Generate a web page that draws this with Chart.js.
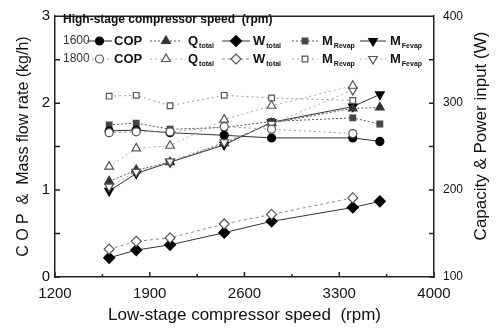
<!DOCTYPE html>
<html>
<head>
<meta charset="utf-8">
<script src="https://cdn.jsdelivr.net/npm/chart.js@4"></script>
<style>
  html, body { margin: 0; padding: 0; background: #fff; }
</style>
</head>
<body>
<canvas id="perfChart" width="496" height="333"></canvas>
<script>
// low-stage compressor speed (rpm) for each high-stage speed
const rpm1600 = [1600, 1800, 2050, 2450, 2800, 3400, 3600];
const rpm1800 = [1600, 1800, 2050, 2450, 2800, 3400];

// high-stage 1600 rpm
const cop1600 = [1.68, 1.69, 1.66, 1.63, 1.60, 1.60, 1.56];
const qTotal1600 = [210, 223, 232, 254, 277, 294, 295];
const wTotal1600 = [122, 131, 137, 151, 164, 180, 187];
const mRevap1600 = [1.75, 1.77, 1.70, 1.72, 1.79, 1.83, 1.76];
const mFevap1600 = [0.99, 1.19, 1.32, 1.52, 1.78, 1.96, 2.10];

// high-stage 1800 rpm
const cop1800 = [1.66, 1.67, 1.67, 1.73, 1.70, 1.65];
const qTotal1800 = [227, 248, 251, 281, 297, 320];
const wTotal1800 = [132, 141, 145, 161, 172, 191];
const mRevap1800 = [2.08, 2.09, 1.97, 2.09, 2.06, 2.03];
const mFevap1800 = [1.04, 1.21, 1.33, 1.55, 1.76, 2.15];

const speedLabels = ['1600', '1800'];
const seriesNames = [['COP', ''], ['Q', 'total'], ['W', 'total'], ['M', 'Revap'], ['M', 'Fevap']];

const FONT = "'Liberation Sans', Arial, sans-serif";

const pts = (xs, ys) => xs.map((x, i) => ({ x: x, y: ys[i] }));

const solid = [];
const dots = [2, 2];
const light = [2, 3];

const mk = (xs, ys, axis, style, filled, rot, radius, dash, lineColor, fill) => ({
    data: pts(xs, ys),
    yAxisID: axis,
    pointStyle: style,
    rotation: rot,
    pointRadius: radius,
    pointBorderWidth: 1.2,
    pointBackgroundColor: filled ? fill : '#fff',
    pointBorderColor: filled ? fill : '#555',
    borderColor: lineColor,
    borderWidth: 1,
    borderDash: dash,
    fill: false,
    tension: 0,
});

const datasets = [
    mk(rpm1800, cop1800, 'y', 'circle', false, 0, 4, light, '#999'),
    mk(rpm1800, qTotal1800, 'y2', 'triangle', false, 0, 5, light, '#aaa'),
    mk(rpm1800, wTotal1800, 'y2', 'rectRot', false, 0, 5, [3, 3], '#888'),
    mk(rpm1800, mRevap1800, 'y', 'rect', false, 0, 4, light, '#999'),
    mk(rpm1800, mFevap1800, 'y', 'triangle', false, 180, 5, light, '#aaa'),
    mk(rpm1600, cop1600, 'y', 'circle', true, 0, 4, solid, '#333', '#000'),
    mk(rpm1600, qTotal1600, 'y2', 'triangle', true, 0, 5, dots, '#555', '#333'),
    mk(rpm1600, wTotal1600, 'y2', 'rectRot', true, 0, 5.5, solid, '#333', '#000'),
    mk(rpm1600, mRevap1600, 'y', 'rect', true, 0, 4, dots, '#555', '#444'),
    mk(rpm1600, mFevap1600, 'y', 'triangle', true, 180, 5, solid, '#333', '#000'),
];

function drawMarker(ctx, ds, x, y) {
    ctx.save();
    ctx.fillStyle = ds.pointBackgroundColor;
    ctx.strokeStyle = ds.pointBorderColor;
    ctx.lineWidth = ds.pointBorderWidth;
    Chart.helpers.drawPoint(ctx, {
        pointStyle: ds.pointStyle,
        rotation: ds.rotation,
        radius: ds.pointRadius,
        borderWidth: ds.pointBorderWidth,
    }, x, y);
    ctx.restore();
}

const extras = {
    id: 'extras',
    afterDraw(chart) {
        const { ctx, chartArea: a, scales } = chart;
        ctx.save();

        // frame top + inward tick marks
        ctx.strokeStyle = '#222';
        ctx.lineWidth = 1.5;
        ctx.beginPath();
        ctx.moveTo(a.left, a.top);
        ctx.lineTo(a.right, a.top);
        scales.x.ticks.forEach(t => {
            const px = scales.x.getPixelForValue(t.value);
            const len = (t.value - 1200) % 700 === 0 ? 5 : 3;
            ctx.moveTo(px, a.bottom);
            ctx.lineTo(px, a.bottom - len);
        });
        scales.y.ticks.forEach(t => {
            const py = scales.y.getPixelForValue(t.value);
            ctx.moveTo(a.left, py);
            ctx.lineTo(a.left + 5, py);
        });
        scales.y2.ticks.forEach(t => {
            const py = scales.y2.getPixelForValue(t.value);
            ctx.moveTo(a.right, py);
            ctx.lineTo(a.right - 5, py);
        });
        ctx.stroke();

        // right axis title, reading upward
        ctx.fillStyle = '#111';
        ctx.font = '17px ' + FONT;
        ctx.textAlign = 'center';
        ctx.textBaseline = 'middle';
        ctx.translate(481, 136);
        ctx.rotate(-Math.PI / 2);
        ctx.fillText('Capacity & Power input (W)', 0, 0);
        ctx.restore();

        // legend block
        ctx.save();
        ctx.fillStyle = '#111';
        ctx.textBaseline = 'middle';
        ctx.textAlign = 'left';
        ctx.font = 'bold 12px ' + FONT;
        ctx.fillText('High-stage compressor speed  (rpm)', 63, 20);

        const rowY = [41, 59];
        const lineX = [[87, 112], [150, 182], [222, 250], [292, 318], [360, 386]];
        const textX = [114, 188, 253, 322, 390];
        for (let r = 0; r < 2; r++) {
            const y = rowY[r];
            ctx.font = '12px ' + FONT;
            ctx.fillStyle = '#333';
            ctx.fillText(speedLabels[r], 63, y);
            for (let k = 0; k < 5; k++) {
                const ds = chart.data.datasets[(r === 0 ? 5 : 0) + k];
                ctx.save();
                ctx.strokeStyle = ds.borderColor;
                ctx.lineWidth = 1;
                ctx.setLineDash(ds.borderDash);
                ctx.beginPath();
                ctx.moveTo(lineX[k][0], y);
                ctx.lineTo(lineX[k][1], y);
                ctx.stroke();
                ctx.restore();
                drawMarker(ctx, ds, (lineX[k][0] + lineX[k][1]) / 2, y);
                ctx.fillStyle = '#111';
                ctx.font = 'bold 13px ' + FONT;
                ctx.fillText(seriesNames[k][0], textX[k], y);
                if (seriesNames[k][1]) {
                    const w = ctx.measureText(seriesNames[k][0]).width;
                    ctx.font = 'bold 7px ' + FONT;
                    ctx.fillText(seriesNames[k][1], textX[k] + w + 1, y + 5);
                }
            }
        }
        ctx.restore();
    }
};

const tickFont = { family: FONT, size: 15 };

new Chart(document.getElementById('perfChart'), {
    type: 'line',
    data: { datasets: datasets },
    options: {
        responsive: false,
        animation: false,
        layout: { padding: { top: 12 } },
        plugins: { legend: { display: false }, tooltip: { enabled: false } },
        scales: {
            x: {
                type: 'linear',
                min: 1200,
                max: 4000,
                grid: { display: false, drawTicks: false },
                border: { display: true, color: '#222', width: 1.5 },
                ticks: {
                    stepSize: 350,
                    autoSkip: false,
                    maxRotation: 0,
                    padding: 8,
                    color: '#111',
                    font: tickFont,
                    callback: v => ((v - 1200) % 700 === 0 ? String(v) : ''),
                },
                title: {
                    display: true,
                    text: 'Low-stage compressor speed  (rpm)',
                    color: '#111',
                    font: { family: FONT, size: 17 },
                    padding: { top: 0, bottom: 7 },
                },
                afterFit: s => { s.height = 56; },
            },
            y: {
                position: 'left',
                min: 0,
                max: 3,
                grid: { display: false, drawTicks: false },
                border: { display: true, color: '#222', width: 1.5 },
                ticks: {
                    stepSize: 0.5,
                    padding: 5,
                    color: '#111',
                    font: tickFont,
                    callback: v => (Number.isInteger(v) ? String(v) : ''),
                },
                title: {
                    display: true,
                    text: 'C O P  &  Mass flow rate (kg/h)',
                    color: '#111',
                    font: { family: FONT, size: 16 },
                    padding: { top: 14, bottom: 0 },
                },
                afterFit: s => { s.width = 55; },
            },
            y2: {
                position: 'right',
                min: 100,
                max: 400,
                grid: { display: false, drawTicks: false },
                border: { display: true, color: '#222', width: 1.5 },
                ticks: {
                    stepSize: 50,
                    padding: 9,
                    color: '#111',
                    font: { family: FONT, size: 12 },
                    callback: v => (v % 100 === 0 ? String(v) : ''),
                },
                afterFit: s => { s.width = 62; },
            },
        },
    },
    plugins: [extras],
});
</script>
</body>
</html>
